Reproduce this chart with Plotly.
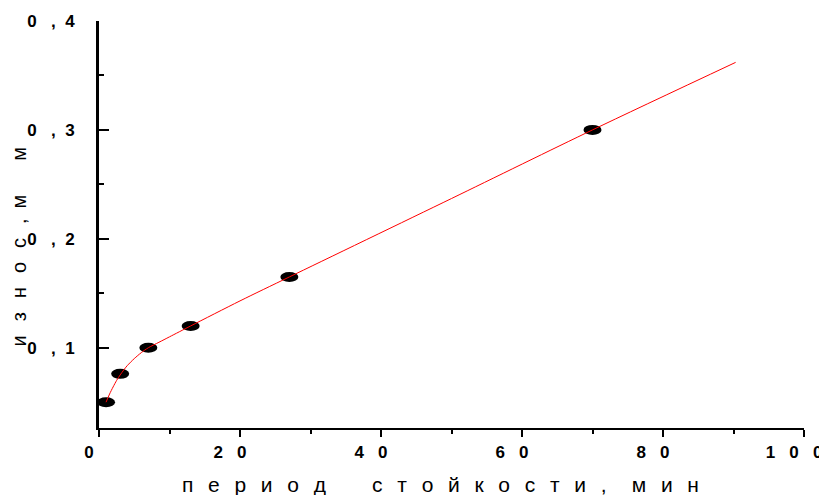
import plotly.graph_objects as go

# measured points: tool life period (min) vs wear (mm)
period_min = [1, 3, 7, 13, 27, 70]
wear_mm = [0.050, 0.076, 0.100, 0.120, 0.165, 0.300]

# fitted curve
curve_x = [1, 1.5, 2, 2.5, 3, 3.5, 4, 5, 6, 7, 8.5, 10, 13, 20, 27, 50, 70, 90.3]
curve_y = [0.050, 0.0575, 0.064, 0.070, 0.075, 0.0795, 0.0835, 0.090, 0.0955, 0.100,
           0.105, 0.110, 0.120, 0.143, 0.165, 0.237, 0.300, 0.362]

x_tickvals = [0, 20, 40, 60, 80, 100]
y_tickvals = [0.1, 0.2, 0.3, 0.4]
x_minor = [10, 30, 50, 70, 90]
y_minor = [0.05, 0.15, 0.25, 0.35]

NB = "\u00a0"
EN = "\u2002"
EM = "\u2003"
TH = "\u2009"
G = EN + TH  # letter gap


def spaced_number(v):
    return (NB * 3).join(list(str(v)))


def spaced_decimal(v):
    a, b = f"{v:.1f}".split(".")
    return a + NB * 3 + "," + NB * 2 + b


x_ticktext = [spaced_number(v) for v in x_tickvals]
y_ticktext = [spaced_decimal(v) for v in y_tickvals]

x_title = G.join("период") + EM + EM + TH + G.join("стойкости,") + EM + TH + G.join("мин")
y_title = G.join("износ,") + EN + "м" + EM + EN + TH + "м"

# the page body adds an 8 px offset; the figure is sized so the plot lands where the reference has it
OFF = 8
W, H = 827 - OFF, 495 - OFF
PL, PR, PT, PB = 99, 804, 21, 428  # plot area edges in window pixels

fig = go.Figure()

fig.add_trace(go.Scatter(
    x=curve_x, y=curve_y, mode="lines",
    line=dict(color="#ff0000", width=1, shape="spline", smoothing=0.8),
    showlegend=False, hoverinfo="skip",
))

shapes = []
for xi, yi in zip(period_min, wear_mm):
    shapes.append(dict(
        type="circle", xref="x", yref="y",
        xsizemode="pixel", ysizemode="pixel",
        xanchor=xi, yanchor=yi,
        x0=-9, x1=9, y0=-5, y1=5,
        fillcolor="black", line=dict(width=0), layer="below",
    ))

tickfont = dict(family="Liberation Sans", size=17, color="black", weight="bold")
pw, ph = PR - PL, PB - PT

fig.update_layout(
    width=W, height=H,
    margin=dict(l=PL - OFF, r=827 - PR, t=PT - OFF, b=495 - PB, autoexpand=False),
    paper_bgcolor="white", plot_bgcolor="white",
    showlegend=False,
    shapes=shapes,
    xaxis=dict(
        range=[0, 100], showgrid=False, zeroline=False, automargin=False,
        showline=True, linecolor="black", linewidth=1.5,
        ticks="outside", ticklen=7, tickwidth=1.5, tickcolor="black",
        tickvals=x_tickvals, ticktext=x_ticktext, tickfont=tickfont,
        ticklabelshift=-10, ticklabelstandoff=1,
        minor=dict(tickvals=x_minor, ticks="outside", ticklen=4, tickwidth=1.5, tickcolor="black"),
    ),
    yaxis=dict(
        range=[0.0263, 0.4], showgrid=False, zeroline=False, automargin=False,
        showline=True, linecolor="black", linewidth=3,
        ticks="inside", ticklen=10, tickwidth=2, tickcolor="black",
        tickvals=y_tickvals, ticktext=y_ticktext, tickfont=tickfont,
        ticklabelstandoff=18,
        minor=dict(tickvals=y_minor, ticks="inside", ticklen=5, tickwidth=2, tickcolor="black"),
    ),
    annotations=[
        dict(text=x_title, xref="paper", yref="paper", x=(440.5 - PL) / pw, y=-(484 - PB) / ph,
             xanchor="center", yanchor="middle", showarrow=False,
             font=dict(family="Liberation Sans", size=21, color="black")),
        dict(text=y_title, xref="paper", yref="paper", x=(18 - PL) / pw, y=(PB - 246.5) / ph,
             xanchor="center", yanchor="middle", showarrow=False, textangle=-90,
             font=dict(family="Liberation Sans", size=20, color="black")),
    ],
)

fig.write_html("out.html")
